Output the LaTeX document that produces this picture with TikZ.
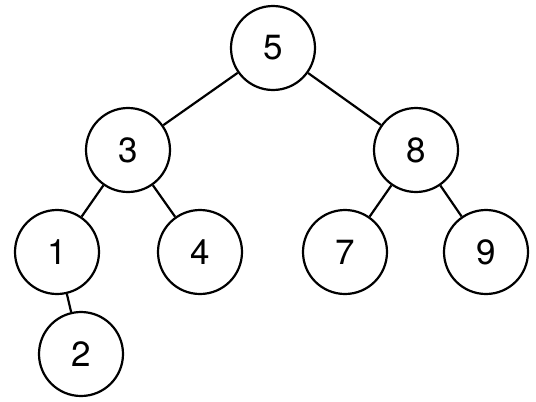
\documentclass[tikz,border=0pt]{standalone}
\usepackage{fontspec}
\setmainfont{TeX Gyre Heros}
\begin{document}
\begin{tikzpicture}[x=1pt,y=-1pt,
  treenode/.style={circle,draw=black,line width=2.2pt,minimum size=84pt,inner sep=0pt,font=\fontsize{35}{35}\selectfont},
  edge/.style={draw=black,line width=2.2pt}]
\useasboundingbox[fill=white] (0,0) rectangle (536,402);
\node[treenode] (n5) at (273,48) {5};
\node[treenode] (n3) at (128,150) {3};
\node[treenode] (n8) at (416,150) {8};
\node[treenode] (n1) at (57,252) {1};
\node[treenode] (n4) at (200,252) {4};
\node[treenode] (n7) at (345,252) {7};
\node[treenode] (n9) at (486,252) {9};
\node[treenode] (n2) at (81,354) {2};
\draw[edge] (n5) -- (n3);
\draw[edge] (n5) -- (n8);
\draw[edge] (n3) -- (n1);
\draw[edge] (n3) -- (n4);
\draw[edge] (n8) -- (n7);
\draw[edge] (n8) -- (n9);
\draw[edge] (n1) -- (n2);
\end{tikzpicture}
\end{document}
